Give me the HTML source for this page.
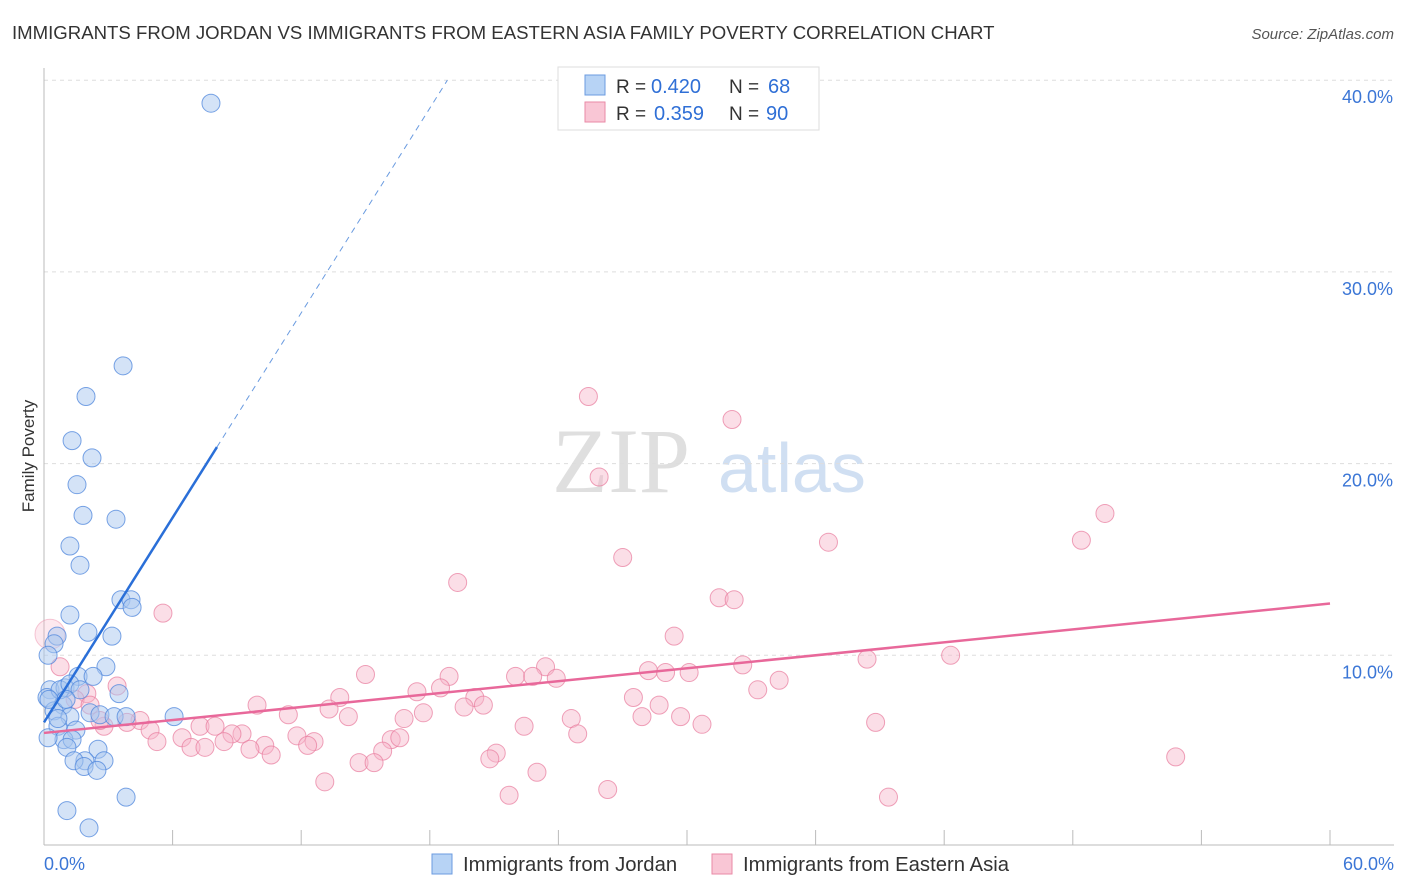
<!DOCTYPE html>
<html><head><meta charset="utf-8"><style>
body{margin:0;background:#fff;font-family:"Liberation Sans",sans-serif;}
svg{display:block}
</style></head><body>
<svg id="chart" width="1406" height="892">
<text x="12" y="39" font-size="18.6" fill="#333">IMMIGRANTS FROM JORDAN VS IMMIGRANTS FROM EASTERN ASIA FAMILY POVERTY CORRELATION CHART</text>
<text x="1394" y="39" font-size="15" fill="#555" font-style="italic" text-anchor="end">Source: ZipAtlas.com</text>
<text x="34" y="456" font-size="17" fill="#333" transform="rotate(-90 34 456)" text-anchor="middle">Family Poverty</text>
<g><text x="552" y="492" font-size="92" fill="#d8d8d8" font-family="Liberation Serif,serif" opacity="0.8">ZIP</text><text x="718" y="492" font-size="70" fill="#c5d8f0" opacity="0.8">atlas</text></g>
<g id="grid"></g><g id="axes"></g><g id="pts"></g><g id="trend"></g>
<g>
<rect x="558" y="67" width="261" height="63" fill="#fff" stroke="#ddd"/>
<rect x="585" y="75" width="20" height="20" fill="#b7d3f5" stroke="#6b9be0"/>
<rect x="585" y="102" width="20" height="20" fill="#f9c6d5" stroke="#e98aa6"/>
<text x="616" y="93" font-size="19" fill="#333">R =</text><text x="651" y="93" font-size="20" fill="#2f6fd6">0.420</text>
<text x="729" y="93" font-size="19" fill="#333">N =</text><text x="768" y="93" font-size="20" fill="#2f6fd6">68</text>
<text x="616" y="120" font-size="19" fill="#333">R =</text><text x="654" y="120" font-size="20" fill="#2f6fd6">0.359</text>
<text x="729" y="120" font-size="19" fill="#333">N =</text><text x="766" y="120" font-size="20" fill="#2f6fd6">90</text>
</g>
<g>
<rect x="432" y="854" width="20" height="20" fill="#b7d3f5" stroke="#6b9be0"/>
<text x="463" y="871" font-size="20.3" fill="#333">Immigrants from Jordan</text>
<rect x="712" y="854" width="20" height="20" fill="#f9c6d5" stroke="#e98aa6"/>
<text x="743" y="871" font-size="20.3" fill="#333">Immigrants from Eastern Asia</text>
</g>
</svg>
<script>
const yTicks=[10,20,30,40];
const yTickLabels=["10.0%","20.0%","30.0%","40.0%"];
const xTickVals=[0,6,12,18,24,30,36,42,48,54,60];
const xEndLabels=["0.0%","60.0%"];
const jordanX=[7.79,3.69,1.96,1.31,2.24,1.54,1.82,3.36,1.21,1.68,1.21,3.59,4.06,4.11,2.05,3.17,0.61,0.47,0.19,2.89,1.59,2.29,0.28,0.98,0.14,3.5,0.89,0.47,1.21,2.15,2.61,3.27,3.83,6.07,0.65,1.49,0.93,1.31,0.19,2.52,1.07,1.91,1.4,2.8,1.87,2.47,3.83,1.07,2.1,0.75,1.21,1.68,0.65,0.23,1.03];
const jordanY=[38.8,25.1,23.5,21.2,20.3,18.9,17.3,17.1,15.7,14.7,12.1,12.9,12.9,12.5,11.2,11.0,11.0,10.6,10.0,9.4,8.9,8.9,8.2,8.3,7.8,8.0,7.4,7.1,6.8,7.0,6.9,6.8,6.8,6.8,6.3,6.1,5.6,5.6,5.7,5.1,5.2,4.5,4.5,4.5,4.2,4.0,2.6,1.9,1.0,8.2,8.5,8.2,6.7,7.7,7.7];
const asiaX=[25.4,32.1,25.9,49.5,36.6,48.4,27.0,19.3,31.5,32.2,5.55,29.4,0.28,23.4,42.3,38.4,15.0,28.2,29.0,30.1,32.6,18.9,22.0,22.8,23.9,34.3,3.41,2.0,17.4,18.5,33.3,20.1,27.5,13.8,9.94,20.5,19.6,28.7,13.3,11.4,14.2,16.8,17.7,27.9,29.7,24.6,38.8,4.48,3.87,2.8,7.28,7.98,9.24,8.77,4.95,22.4,30.7,11.8,12.6,6.44,24.9,10.3,5.27,8.4,16.2,16.6,12.3,6.86,7.51,9.61,15.8,21.1,10.6,20.8,52.8,14.7,15.4,23.0,13.1,21.7,26.3,39.4,2.61,0.75,1.45,2.15];
const asiaY=[23.5,22.3,19.3,17.4,15.9,16.0,15.1,13.8,13.0,12.9,12.2,11.0,11.1,9.4,10.0,9.8,9.0,9.2,9.1,9.1,9.5,8.9,8.9,8.9,8.8,8.7,8.4,8.0,8.1,8.3,8.2,7.8,7.8,7.8,7.4,7.4,7.3,7.4,7.2,6.9,6.8,6.7,7.0,6.8,6.8,6.7,6.5,6.6,6.5,6.3,6.3,6.3,5.9,5.9,6.1,6.3,6.4,5.8,5.5,5.7,5.9,5.3,5.5,5.5,5.6,5.7,5.3,5.2,5.2,5.1,5.0,4.9,4.8,4.6,4.7,4.4,4.4,3.9,3.4,2.7,3.0,2.6,6.6,9.4,7.7,7.4];
const jordanTrend=[6.5,1.78];
const asiaTrend=[5.95,0.1125];
const sx=v=>44+v*1286/60, sy=v=>847-v*19.17;
const NS="http://www.w3.org/2000/svg";
function mk(tag,at,parent){const e=document.createElementNS(NS,tag);for(const k in at)e.setAttribute(k,at[k]);document.getElementById(parent).appendChild(e);return e;}
yTicks.forEach((t,i)=>{
 const l=mk('line',{x1:44,x2:1394,y1:sy(t),y2:sy(t),stroke:'#ddd','stroke-dasharray':'4,4'},'grid');
 
 
 const tx=mk('text',{x:1393,y:sy(t)+23,'font-size':18,fill:'#3b76d6','text-anchor':'end'},'grid');tx.textContent=yTickLabels[i];
 
 
});
const ya=mk('line',{x1:44,x2:44,y1:68,y2:845,stroke:'#bbb'},'axes');


const xa=mk('line',{x1:44,x2:1394,y1:845,y2:845,stroke:'#bbb'},'axes');


xTickVals.forEach(v=>{const t=mk('line',{x1:sx(v),x2:sx(v),y1:830,y2:845,stroke:'#bbb'},'axes');
 
 });
[[0,'start',44],[60,'end',1394]].forEach((a,i)=>{const t=mk('text',{x:a[2],y:870,'font-size':18,fill:'#3b76d6','text-anchor':a[1]},'axes');t.textContent=xEndLabels[i];
 
 });
asiaX.forEach((x,i)=>{const big=(i==12);const c=mk('circle',{cx:sx(x),cy:sy(asiaY[i]),r:big?15:9,fill:'#f7b6ca','fill-opacity':big?0.3:0.45,stroke:'#e87a9c','stroke-opacity':big?0.4:0.7},'pts');
 
 });
jordanX.forEach((x,i)=>{const c=mk('circle',{cx:sx(x),cy:sy(jordanY[i]),r:9,fill:'#a9c8f0','fill-opacity':0.5,stroke:'#4d86dc','stroke-opacity':0.75},'pts');
 
 });
const jEnd=8.07, jDash=(40-jordanTrend[0])/jordanTrend[1];
const l1=mk('line',{x1:sx(0),y1:sy(jordanTrend[0]),x2:sx(jEnd),y2:sy(jordanTrend[0]+jordanTrend[1]*jEnd),stroke:'#2a6fd8','stroke-width':2.5},'trend');


const l2=mk('line',{x1:sx(jEnd),y1:sy(jordanTrend[0]+jordanTrend[1]*jEnd),x2:sx(jDash),y2:sy(40),stroke:'#6a9be0','stroke-width':1,'stroke-dasharray':'6,5'},'trend');


const l3=mk('line',{x1:sx(0),y1:sy(asiaTrend[0]),x2:sx(60),y2:sy(asiaTrend[0]+asiaTrend[1]*60),stroke:'#e8689a','stroke-width':2.5},'trend');


</script>
</body></html>
